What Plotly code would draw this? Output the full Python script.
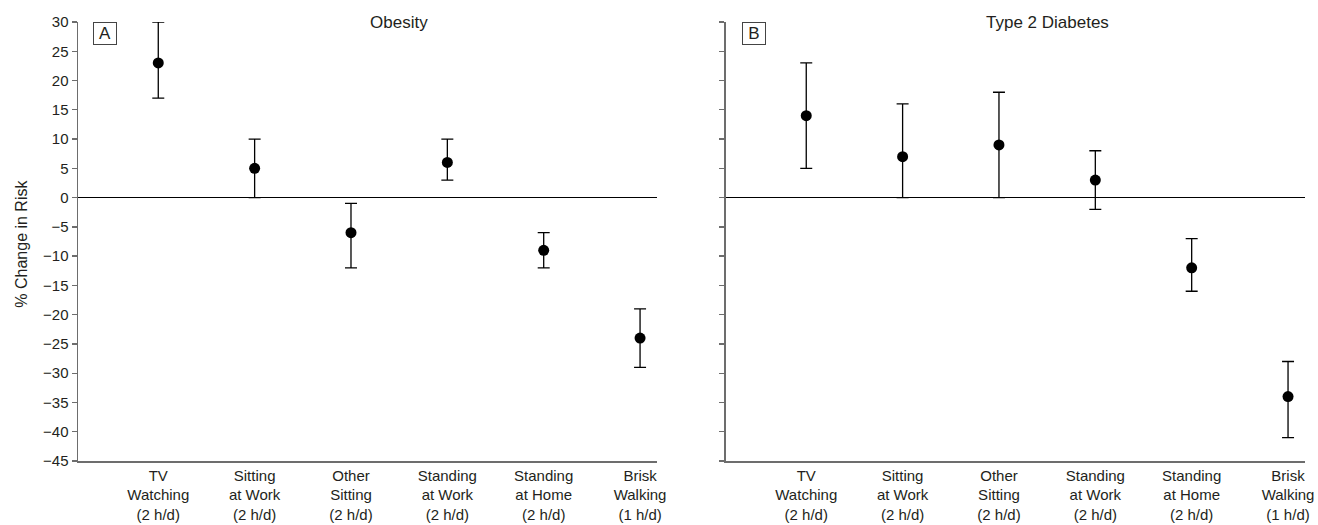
import plotly.graph_objects as go

categories = ["TV<br>Watching<br>(2 h/d)", "Sitting<br>at Work<br>(2 h/d)", "Other<br>Sitting<br>(2 h/d)",
              "Standing<br>at Work<br>(2 h/d)", "Standing<br>at Home<br>(2 h/d)", "Brisk<br>Walking<br>(1 h/d)"]
positions = [1, 2, 3, 4, 5, 6]

obesity_est = [23, 5, -6, 6, -9, -24]
obesity_lo = [17, 0, -12, 3, -12, -29]
obesity_hi = [30, 10, -1, 10, -6, -19]

diabetes_est = [14, 7, 9, 3, -12, -34]
diabetes_lo = [5, 0, 0, -2, -16, -41]
diabetes_hi = [23, 16, 18, 8, -7, -28]

y_ticks = list(range(-45, 31, 5))
y_ticktext = [str(v).replace("-", "\u2212") for v in y_ticks]

FONT = "Liberation Sans, Arial, sans-serif"
TXT = "#231f20"
AX = "#6d6d6d"

fig = go.Figure()

def add_panel(est, lo, hi, xa, ya):
    fig.add_trace(go.Scatter(
        x=positions, y=est, mode="markers", xaxis=xa, yaxis=ya,
        marker=dict(color="black", size=11, symbol="circle"),
        error_y=dict(type="data", symmetric=False,
                     array=[h - e for h, e in zip(hi, est)],
                     arrayminus=[e - l for e, l in zip(est, lo)],
                     color="black", thickness=1.3, width=6),
        showlegend=False, hoverinfo="skip"))

add_panel(obesity_est, obesity_lo, obesity_hi, "x", "y")
add_panel(diabetes_est, diabetes_lo, diabetes_hi, "x2", "y2")

xr = [0.167, 6.176]
xcommon = dict(range=xr, tickmode="array", tickvals=positions, ticktext=categories,
               showline=True, linecolor=AX, linewidth=1.5, ticks="", showgrid=False,
               zeroline=False, automargin=False,
               tickfont=dict(family=FONT, size=15, color=TXT), fixedrange=True)
ycommon = dict(range=[-45, 30], tickmode="array", tickvals=y_ticks, ticktext=y_ticktext,
               showline=True, linecolor=AX, linewidth=1.5, ticks="outside", ticklen=5,
               tickcolor=AX, tickwidth=1.3, showgrid=False, automargin=False,
               zeroline=True, zerolinecolor="black", zerolinewidth=1.3,
               tickfont=dict(family=FONT, size=15, color=TXT), fixedrange=True)

fig.update_layout(
    width=1318, height=525,
    margin=dict(l=78, r=13, t=22, b=64),
    paper_bgcolor="white", plot_bgcolor="white",
    font=dict(family=FONT, size=15, color=TXT),
    xaxis=dict(domain=[0, 0.4719], anchor="y", **xcommon),
    yaxis=dict(domain=[0, 1], anchor="x", **ycommon),
    xaxis2=dict(domain=[0.5281, 1], anchor="y2", **xcommon),
    yaxis2=dict(domain=[0, 1], anchor="x2", showticklabels=False, **ycommon),
)

annotations = [
    dict(text="Obesity", x=3.5, y=1, xref="x", yref="y domain", xanchor="center", yanchor="middle",
         showarrow=False, font=dict(family=FONT, size=17, color=TXT)),
    dict(text="Type 2 Diabetes", x=3.5, y=1, xref="x2", yref="y2 domain", xanchor="center", yanchor="middle",
         showarrow=False, font=dict(family=FONT, size=17, color=TXT)),
    dict(text="A", x=0.026, y=1, xref="x domain", yref="y domain", xanchor="left", yanchor="top",
         showarrow=False, width=22, height=21, borderpad=0, bordercolor="#444", borderwidth=1,
         font=dict(family=FONT, size=17, color=TXT)),
    dict(text="B", x=0.0276, y=1, xref="x2 domain", yref="y2 domain", xanchor="left", yanchor="top",
         showarrow=False, width=22, height=21, borderpad=0, bordercolor="#444", borderwidth=1,
         font=dict(family=FONT, size=17, color=TXT)),
    dict(text="% Change in Risk", x=-56 / 1227, y=0.495, xref="paper", yref="paper",
         xanchor="center", yanchor="middle", textangle=-90, showarrow=False,
         font=dict(family=FONT, size=16, color=TXT)),
]
fig.update_layout(annotations=annotations)

fig.write_html("out.html", config={"displayModeBar": False, "staticPlot": True},
               post_script="document.body.style.margin='0';document.body.style.overflow='hidden';")
